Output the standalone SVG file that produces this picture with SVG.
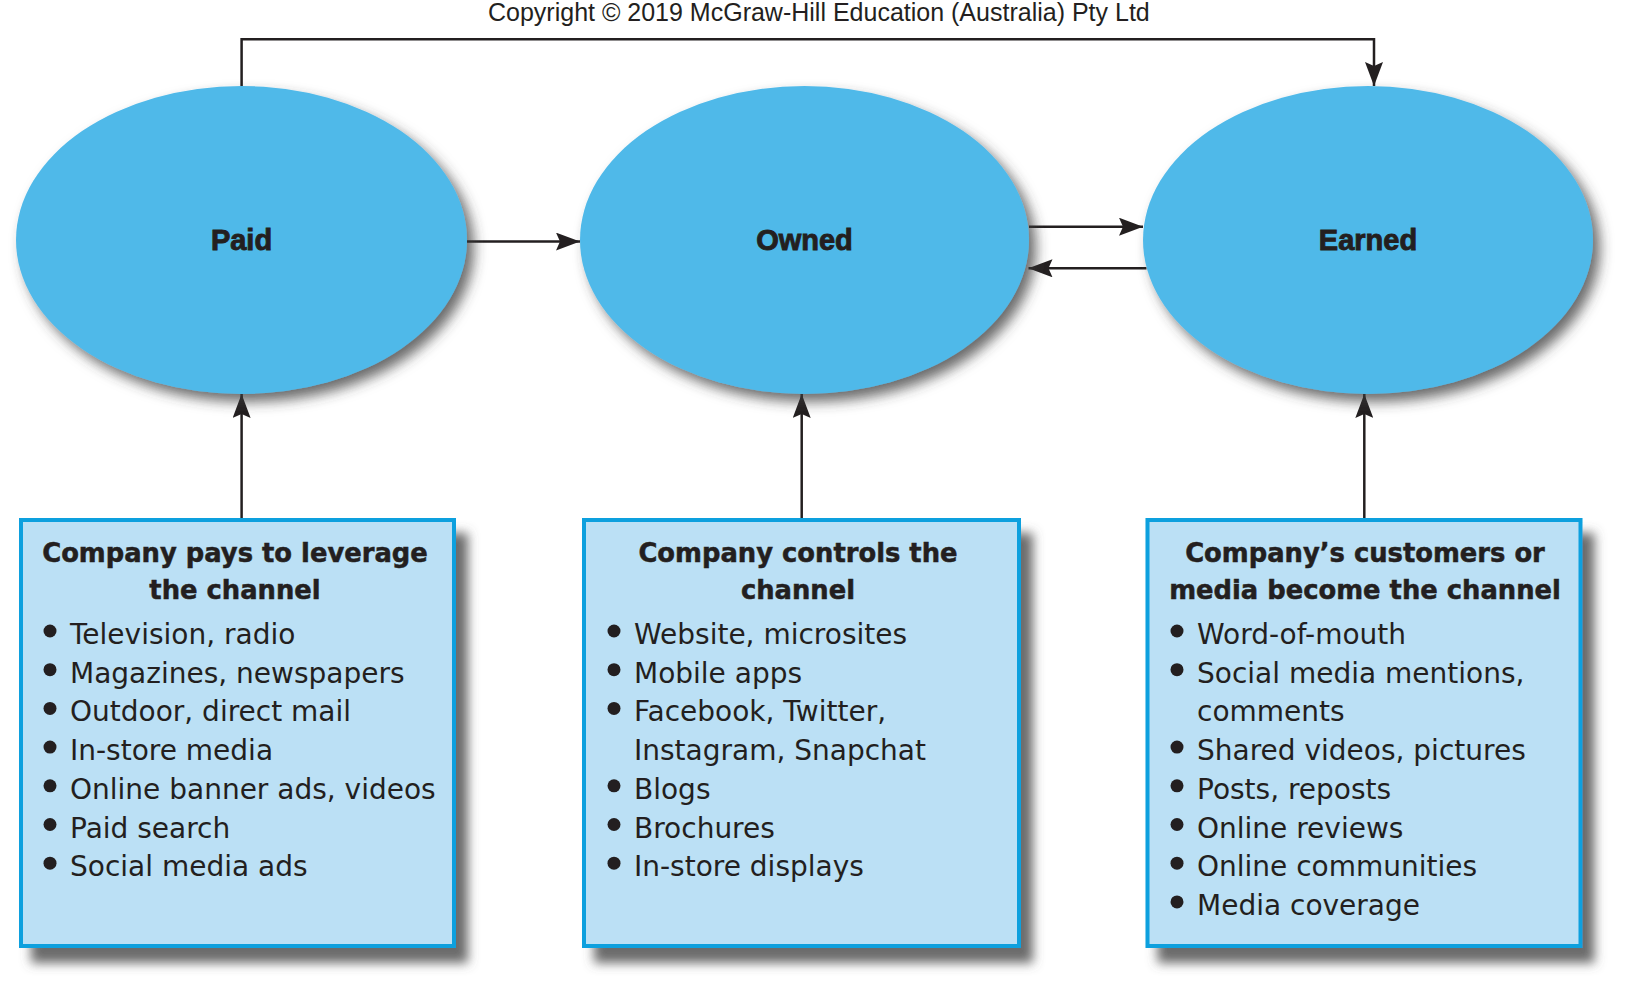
<svg xmlns="http://www.w3.org/2000/svg" width="1633" height="989" viewBox="0 0 1633 989">
  <defs>
    <filter id="ellShadow" x="-10%" y="-10%" width="125%" height="130%">
      <feDropShadow dx="7" dy="8" stdDeviation="6.5" flood-color="#3a3a3a" flood-opacity="0.75"/>
    </filter>
    <filter id="boxShadow" x="-10%" y="-10%" width="125%" height="125%">
      <feDropShadow dx="12" dy="15" stdDeviation="5.5" flood-color="#5c5c5c" flood-opacity="0.9"/>
    </filter>
    <marker id="arrow" viewBox="0 0 24 18" refX="24" refY="9" markerWidth="24" markerHeight="18" markerUnits="userSpaceOnUse" orient="auto">
      <path d="M0,0 L24,9 L0,18 L4,9 Z" fill="#231F20"/>
    </marker>
  </defs>
  <style>
    .ell { fill: #50B9E9; filter: url(#ellShadow); }
    .ellLabel { font-family: "Liberation Sans", Arial, sans-serif; font-weight: bold; font-size: 29px; fill: #231F20; stroke: #231F20; stroke-width: 0.9; text-anchor: middle; }
    .box { fill: #BBE0F5; stroke: #0AA0DE; stroke-width: 4; filter: url(#boxShadow); }
    .title { font-family: "DejaVu Sans", sans-serif; font-weight: bold; font-size: 25.8px; fill: #231F20; stroke: #231F20; stroke-width: 0.5; text-anchor: middle; }
    .item { font-family: "DejaVu Sans", sans-serif; font-size: 28px; fill: #231F20; }
    .bullet { fill: #231F20; }
    .conn { fill: none; stroke: #231F20; stroke-width: 2.5; }
    .copy { font-family: "Liberation Sans", Arial, sans-serif; font-size: 25px; fill: #231F20; }
  </style>
  <rect x="0" y="0" width="1633" height="989" fill="#FFFFFF"/>

  <text class="copy" x="488" y="20.5">Copyright © 2019 McGraw-Hill Education (Australia) Pty Ltd</text>

  <g id="connectors">
    <path class="conn" d="M241.6,86 V39.3 H1374 V86" marker-end="url(#arrow)"/>
    <path class="conn" d="M467,241.6 H580" marker-end="url(#arrow)"/>
    <path class="conn" d="M1029,226.7 H1143" marker-end="url(#arrow)"/>
    <path class="conn" d="M1146.5,268.3 H1028.5" marker-end="url(#arrow)"/>
    <path class="conn" d="M241.6,518 V394" marker-end="url(#arrow)"/>
    <path class="conn" d="M801.7,518 V394" marker-end="url(#arrow)"/>
    <path class="conn" d="M1364.3,518 V394" marker-end="url(#arrow)"/>
  </g>

  <g id="paid">
    <ellipse class="ell" cx="241.5" cy="240" rx="225.5" ry="154"/>
    <text class="ellLabel" x="241.5" y="249.5">Paid</text>
  </g>
  <g id="owned">
    <ellipse class="ell" cx="804.5" cy="240" rx="224.5" ry="154"/>
    <text class="ellLabel" x="804.5" y="249.5">Owned</text>
  </g>
  <g id="earned">
    <ellipse class="ell" cx="1368" cy="240" rx="225" ry="154"/>
    <text class="ellLabel" x="1368" y="249.5">Earned</text>
  </g>

  <g id="paid-box">
    <rect class="box" x="21" y="520" width="433" height="426"/>
    <text class="title" x="235" y="561.7">Company pays to leverage</text>
    <text class="title" x="235" y="599.3">the channel</text>
    <circle class="bullet" cx="50" cy="631" r="6.5"/>
    <text class="item" x="70" y="644">Television, radio</text>
    <circle class="bullet" cx="50" cy="669.7" r="6.5"/>
    <text class="item" x="70" y="682.7">Magazines, newspapers</text>
    <circle class="bullet" cx="50" cy="708.4" r="6.5"/>
    <text class="item" x="70" y="721.4">Outdoor, direct mail</text>
    <circle class="bullet" cx="50" cy="747.1" r="6.5"/>
    <text class="item" x="70" y="760.1">In-store media</text>
    <circle class="bullet" cx="50" cy="785.8" r="6.5"/>
    <text class="item" x="70" y="798.8">Online banner ads, videos</text>
    <circle class="bullet" cx="50" cy="824.5" r="6.5"/>
    <text class="item" x="70" y="837.5">Paid search</text>
    <circle class="bullet" cx="50" cy="863.2" r="6.5"/>
    <text class="item" x="70" y="876.2">Social media ads</text>
  </g>

  <g id="owned-box">
    <rect class="box" x="584" y="520" width="435" height="426"/>
    <text class="title" x="798" y="561.7">Company controls the</text>
    <text class="title" x="798" y="599.3">channel</text>
    <circle class="bullet" cx="614" cy="631" r="6.5"/>
    <text class="item" x="634" y="644">Website, microsites</text>
    <circle class="bullet" cx="614" cy="669.7" r="6.5"/>
    <text class="item" x="634" y="682.7">Mobile apps</text>
    <circle class="bullet" cx="614" cy="708.4" r="6.5"/>
    <text class="item" x="634" y="721.4">Facebook, Twitter,</text>
    <text class="item" x="634" y="760.1">Instagram, Snapchat</text>
    <circle class="bullet" cx="614" cy="785.8" r="6.5"/>
    <text class="item" x="634" y="798.8">Blogs</text>
    <circle class="bullet" cx="614" cy="824.5" r="6.5"/>
    <text class="item" x="634" y="837.5">Brochures</text>
    <circle class="bullet" cx="614" cy="863.2" r="6.5"/>
    <text class="item" x="634" y="876.2">In-store displays</text>
  </g>

  <g id="earned-box">
    <rect class="box" x="1147.5" y="520" width="433" height="426"/>
    <text class="title" x="1365" y="561.7">Company’s customers or</text>
    <text class="title" x="1365" y="599.3">media become the channel</text>
    <circle class="bullet" cx="1177" cy="631" r="6.5"/>
    <text class="item" x="1197" y="644">Word-of-mouth</text>
    <circle class="bullet" cx="1177" cy="669.7" r="6.5"/>
    <text class="item" x="1197" y="682.7">Social media mentions,</text>
    <text class="item" x="1197" y="721.4">comments</text>
    <circle class="bullet" cx="1177" cy="747.1" r="6.5"/>
    <text class="item" x="1197" y="760.1">Shared videos, pictures</text>
    <circle class="bullet" cx="1177" cy="785.8" r="6.5"/>
    <text class="item" x="1197" y="798.8">Posts, reposts</text>
    <circle class="bullet" cx="1177" cy="824.5" r="6.5"/>
    <text class="item" x="1197" y="837.5">Online reviews</text>
    <circle class="bullet" cx="1177" cy="863.2" r="6.5"/>
    <text class="item" x="1197" y="876.2">Online communities</text>
    <circle class="bullet" cx="1177" cy="901.9" r="6.5"/>
    <text class="item" x="1197" y="914.9">Media coverage</text>
  </g>
</svg>
